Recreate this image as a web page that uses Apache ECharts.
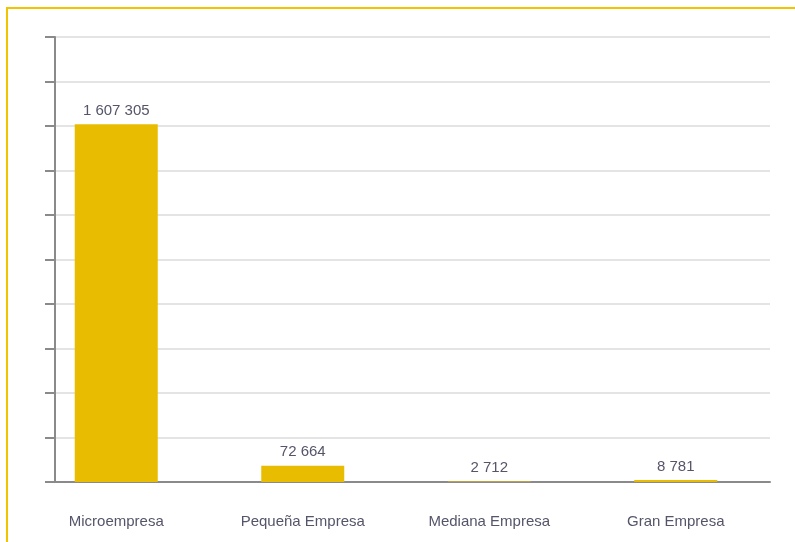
<!DOCTYPE html>
<html>
<head>
<meta charset="utf-8">
<script src="https://cdn.jsdelivr.net/npm/echarts@6/dist/echarts.min.js"></script>
<style>
  html, body { margin: 0; padding: 0; background: #fff; }
  #wrap { position: relative; width: 795px; height: 542px; }
  #frame {
    position: absolute; left: 6px; top: 7px; right: 0; bottom: 0;
    border-top: 2px solid #f1c400; border-left: 2px solid #f1c400;
    pointer-events: none;
  }
  #chart { position: absolute; left: 0; top: 0; width: 795px; height: 542px; }
</style>
</head>
<body>
<div id="wrap">
  <div id="chart"></div>
  <div id="frame"></div>
</div>
<script>
const categories = ['Microempresa', 'Pequeña Empresa', 'Mediana Empresa', 'Gran Empresa']
const empresas = [1607305, 72664, 2712, 8781]

const yMax = 2000000
const yStep = 200000

// miles separados por espacio, como en el original
function fmt(v) {
  return String(v).replace(/\B(?=(\d{3})+(?!\d))/g, ' ')
}

const chart = echarts.init(document.getElementById('chart'))

chart.setOption({
  animation: false,
  textStyle: { fontFamily: 'Liberation Sans Narrow, Liberation Sans, sans-serif' },
  grid: [
    // barras
    { left: 23, right: 26, top: 37, bottom: 60 },
    // ejes y rejilla
    { left: 55, right: 25, top: 37, bottom: 60 }
  ],
  xAxis: [
    {
      gridIndex: 0,
      type: 'category',
      data: categories,
      axisLine: { show: false },
      axisTick: { show: false },
      axisLabel: { color: '#55556a', fontSize: 15, margin: 32 }
    },
    {
      gridIndex: 1,
      type: 'value',
      min: 0,
      max: 1,
      axisLine: { show: true, lineStyle: { color: '#8a8a8a', width: 2 } },
      axisTick: { show: false },
      axisLabel: { show: false },
      splitLine: { show: false }
    }
  ],
  yAxis: [
    {
      gridIndex: 0,
      type: 'value',
      min: 0,
      max: yMax,
      interval: yStep,
      show: false
    },
    {
      gridIndex: 1,
      type: 'value',
      min: 0,
      max: yMax,
      interval: yStep,
      axisLine: { show: true, lineStyle: { color: '#8a8a8a', width: 2 } },
      axisTick: { show: true, length: 10, lineStyle: { color: '#8a8a8a', width: 2 } },
      axisLabel: { show: false },
      splitLine: { show: true, lineStyle: { color: '#e4e4e4', width: 2 } }
    }
  ],
  series: [
    {
      type: 'bar',
      xAxisIndex: 0,
      yAxisIndex: 0,
      data: empresas,
      barWidth: 83,
      itemStyle: { color: '#e8bc00' },
      label: {
        show: true,
        position: 'top',
        distance: 6,
        color: '#55556a',
        fontSize: 15,
        formatter: p => fmt(p.value)
      }
    }
  ]
})
</script>
</body>
</html>
